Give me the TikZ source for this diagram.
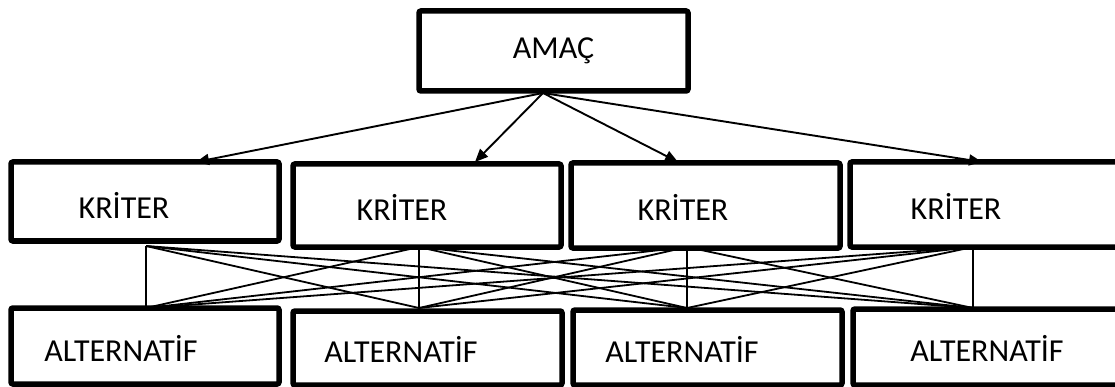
\documentclass[tikz,border=0pt]{standalone}
\usepackage{fontspec}
\setmainfont{Carlito}
\usetikzlibrary{arrows.meta}
\begin{document}
\begin{tikzpicture}[x=1pt,y=-1pt,
  box/.style={draw, line width=5.5pt, rounded corners=2pt, inner sep=0pt},
  lbl/.style={font=\fontsize{32}{38}\selectfont, inner sep=0pt},
  link/.style={line width=1.8pt},
  arr/.style={line width=1.9pt, -{Triangle[length=13pt,width=11pt]}}]
\useasboundingbox (0,0) rectangle (1115,387);
\clip (0,0) rectangle (1115,387);

% goal
\node[box, minimum width=269pt, minimum height=80pt, lbl] (goal) at (553.5,51) {AMAÇ};

% criteria row
\node[box, minimum width=268pt, minimum height=79pt] (k1) at (145,201.5) {};
\node[box, minimum width=268pt, minimum height=83pt] (k2) at (427,205.5) {};
\node[box, minimum width=269pt, minimum height=85pt] (k3) at (705.5,205.5) {};
\node[box, minimum width=275pt, minimum height=85pt] (k4) at (987.5,204.5) {};
\node[lbl] (k1t) at (124,205) {KRİTER};
\node[lbl] (k2t) at (402,207) {KRİTER};
\node[lbl] (k3t) at (683,207) {KRİTER};
\node[lbl] (k4t) at (956,206) {KRİTER};

% alternatives row
\node[box, minimum width=268pt, minimum height=76pt] (a1) at (145,346) {};
\node[box, minimum width=269pt, minimum height=74pt] (a2) at (427.5,348) {};
\node[box, minimum width=269pt, minimum height=75pt] (a3) at (707.5,347.5) {};
\node[box, minimum width=272pt, minimum height=76pt] (a4) at (989,347) {};
\node[lbl] (a1t) at (121,348) {ALTERNATİF};
\node[lbl] (a2t) at (401,349) {ALTERNATİF};
\node[lbl] (a3t) at (682,349) {ALTERNATİF};
\node[lbl] (a4t) at (987,348) {ALTERNATİF};

% arrows from the goal to each criterion
\coordinate (apex) at (543,93);
\coordinate (t1) at (196,162);
\coordinate (t2) at (475,162);
\coordinate (t3) at (678,162);
\coordinate (t4) at (982,162);
\foreach \i in {1,...,4} \draw[arr] (apex) -- (t\i);

% every criterion linked to every alternative
\coordinate (up1) at (146,246);
\coordinate (up2) at (419,247);
\coordinate (up3) at (687,247);
\coordinate (up4) at (973,247);
\coordinate (dn1) at (146,308);
\coordinate (dn2) at (419,308);
\coordinate (dn3) at (687,308);
\coordinate (dn4) at (973,308);
\foreach \i in {1,...,4}
  \foreach \j in {1,...,4}
    \draw[link] (up\i) -- (dn\j);
\end{tikzpicture}
\end{document}
